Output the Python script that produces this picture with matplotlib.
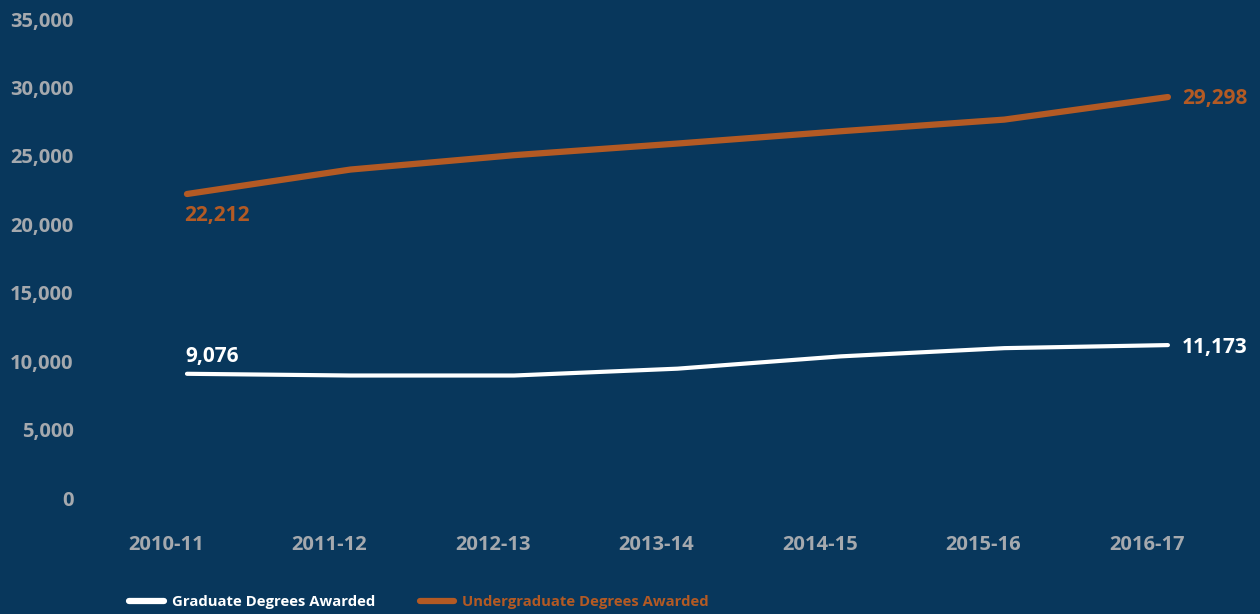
import matplotlib.pyplot as plt
from matplotlib.lines import Line2D

years = ["2010-11", "2011-12", "2012-13", "2013-14", "2014-15", "2015-16", "2016-17"]
graduate = [9076, 8950, 8950, 9450, 10350, 10950, 11173]
undergrad = [22212, 24000, 25050, 25900, 26800, 27650, 29298]
yticks = [0, 5000, 10000, 15000, 20000, 25000, 30000, 35000]

bg = "#08375c"
orange = "#b35a24"
grey = "#a5a9ae"

plt.rcParams['font.family'] = ['Open Sans', 'DejaVu Sans']
plt.rcParams['font.weight'] = 'bold'

fig = plt.figure(figsize=(12.6, 6.14), dpi=100, facecolor=bg)
ax = fig.add_axes([100/1260, 1 - 498/614, 1150/1260, 479/614], facecolor=bg)

x = list(range(len(years)))
ax.plot(x, undergrad, color=orange, lw=4.5, solid_capstyle='round')
ax.plot(x, graduate, color='white', lw=3, solid_capstyle='round')

# end labels
ax.annotate(f"{undergrad[0]:,}", (x[0], undergrad[0]), xytext=(-2, -8), textcoords='offset points',
            ha='left', va='top', color=orange, fontsize=15, fontweight='bold')
ax.annotate(f"{undergrad[-1]:,}", (x[-1], undergrad[-1]), xytext=(10, -1), textcoords='offset points',
            ha='left', va='center', color=orange, fontsize=15, fontweight='bold')
ax.annotate(f"{graduate[0]:,}", (x[0], graduate[0]), xytext=(-1, 5), textcoords='offset points',
            ha='left', va='bottom', color='white', fontsize=15, fontweight='bold')
ax.annotate(f"{graduate[-1]:,}", (x[-1], graduate[-1]), xytext=(10, -2), textcoords='offset points',
            ha='left', va='center', color='white', fontsize=15, fontweight='bold')

ax.set_xlim(-0.532, 6.502)
ax.set_ylim(0, 35000)
ax.set_xticks([i - 0.13 for i in x])
ax.set_xticklabels(years)
ax.set_yticks(yticks)
ax.set_yticklabels([f"{v:,}" for v in yticks])
ax.tick_params(length=0, colors=grey, labelsize=14.5)
ax.tick_params(axis='x', pad=27)
ax.tick_params(axis='y', pad=19)
for lab in ax.get_xticklabels() + ax.get_yticklabels():
    lab.set_fontweight('bold')
for s in ax.spines.values():
    s.set_visible(False)

handles = [Line2D([0], [0], color='white', lw=4.5, solid_capstyle='round'),
           Line2D([0], [0], color=orange, lw=4.5, solid_capstyle='round')]
leg = fig.legend(handles, ["Graduate Degrees Awarded", "Undergraduate Degrees Awarded"],
                 loc='center left', bbox_to_anchor=(116/1260, 1 - 602/614), ncol=2,
                 frameon=False, handlelength=2.3, handletextpad=0.55,
                 columnspacing=3.0, prop={'weight': 'bold', 'size': 10.7})
for t, c in zip(leg.get_texts(), ['white', orange]):
    t.set_color(c)

fig.savefig("out.png", dpi=100, facecolor=bg)
